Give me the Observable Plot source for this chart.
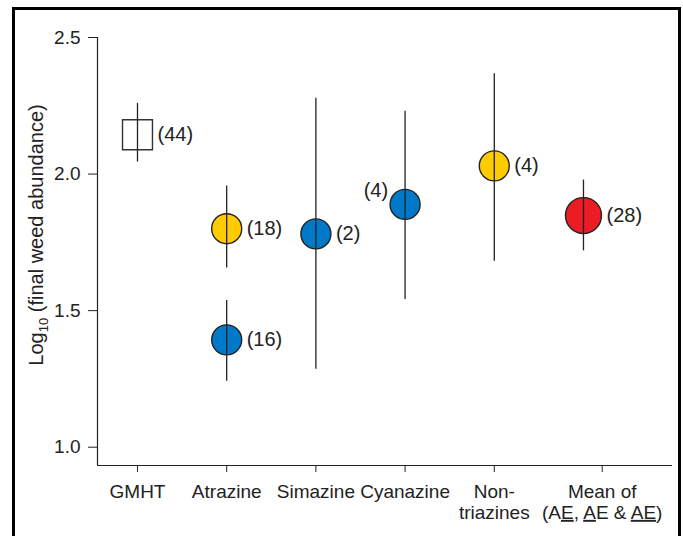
<!DOCTYPE html>
<html>
<head>
<meta charset="utf-8">
<script src="https://cdn.jsdelivr.net/npm/d3@7"></script>
<script src="https://cdn.jsdelivr.net/npm/@observablehq/plot@0.6"></script>
<style>
  html, body { margin: 0; padding: 0; background: #fff; overflow: hidden; }
  #wrap { position: relative; width: 683px; height: 536px; }
  #border { position: absolute; left: 12px; top: 7px; width: 669px; height: 600px; box-sizing: border-box; border: 3px solid #000; border-bottom: none; pointer-events: none; }
  #chart { position: absolute; left: 0; top: 0; }
  svg { font-family: "Liberation Sans", Arial, sans-serif; }
</style>
</head>
<body>
<div id="wrap"><div id="chart"></div><div id="border"></div></div>
<script>
// Categories and tick labels
const categories = ["GMHT", "Atrazine", "Simazine", "Cyanazine", "Non-triazines", "Mean"];
const tickLabels = ["GMHT", "Atrazine", "Simazine", "Cyanazine", "Non-\ntriazines", "Mean of\n(AE, AE & AE)"];
// tick positions along the category axis (the "Mean of" label sits slightly right of its point)
const xTickValues = [0, 1, 2, 3, 4, 5.21];
const yTicks = [1.0, 1.5, 2.0, 2.5];

// Points (means, CI bounds, sample size labels, group)
const pointCat   = ["GMHT", "Atrazine", "Atrazine", "Simazine", "Cyanazine", "Non-triazines", "Mean"];
const pointMean  = [2.144, 1.800, 1.393, 1.781, 1.889, 2.030, 1.848];
const pointLow   = [2.044, 1.656, 1.241, 1.285, 1.541, 1.681, 1.719];
const pointHigh  = [2.259, 1.956, 1.537, 2.278, 2.230, 2.367, 1.978];
const pointN     = ["(44)", "(18)", "(16)", "(2)", "(4)", "(4)", "(28)"];
const pointGroup = ["GM", "yellow", "blue", "blue", "blue", "yellow", "red"];

const groupColor = {GM: "#ffffff", yellow: "#FFCC00", blue: "#0079C9", red: "#EC1C24"};

const data = pointCat.map((c, i) => ({
  cat: c, xi: categories.indexOf(c), mean: pointMean[i], low: pointLow[i], high: pointHigh[i],
  n: pointN[i], group: pointGroup[i]
}));

const circles = data.filter(d => d.group !== "GM" && d.group !== "red");
const squares = data.filter(d => d.group === "GM");
const bigs = data.filter(d => d.group === "red");
const labelsRight = data.filter(d => d.cat !== "Cyanazine" && d.group !== "red");
const labelsLeft = data.filter(d => d.cat === "Cyanazine");

// axis extents (in scale units)
const xMin = -0.4484, xMax = 5.998;
const yMin = 0.933, yMax = 2.5;

const plot = Plot.plot({
  width: 683,
  height: 536,
  marginLeft: 97,
  marginRight: 11,
  marginTop: 37,
  marginBottom: 71,
  style: {fontFamily: "'Liberation Sans', Arial, sans-serif", fontSize: "19px", color: "#222", background: "transparent"},
  x: {domain: [xMin, xMax]},
  y: {domain: [yMin, yMax]},
  marks: [
    Plot.axisY({ticks: yTicks, tickFormat: d3.format(".1f"), tickSize: 9, tickPadding: 8, label: null, fontSize: 19, stroke: "#222", strokeOpacity: 1}),
    Plot.axisX({ticks: xTickValues, tickSize: 7, tickPadding: 10, label: null, fontSize: 19, lineHeight: 1.12,
      tickFormat: (v, i) => tickLabels[i], stroke: "#222", strokeOpacity: 1}),
    Plot.ruleX([xMin], {stroke: "#222", strokeWidth: 1.2}),
    Plot.ruleY([yMin], {stroke: "#222", strokeWidth: 1.2}),
    Plot.dot(squares, {x: "xi", y: "mean", symbol: "square", r: 16.9, fill: "#fff", stroke: "#333", strokeWidth: 1.4}),
    Plot.dot(circles, {x: "xi", y: "mean", r: 15, fill: d => groupColor[d.group], stroke: "#222", strokeWidth: 1.4}),
    Plot.dot(bigs, {x: "xi", y: "mean", r: 18, fill: d => groupColor[d.group], stroke: "#222", strokeWidth: 1.4}),
    Plot.ruleX(data, {x: "xi", y1: "low", y2: "high", stroke: "#222", strokeWidth: 1.3}),
    Plot.text(labelsRight, {x: "xi", y: "mean", text: "n", textAnchor: "start", dx: 20, fontSize: 20, fill: "#222"}),
    Plot.text(bigs, {x: "xi", y: "mean", text: "n", textAnchor: "start", dx: 23, fontSize: 20, fill: "#222"}),
    Plot.text(labelsLeft, {x: "xi", y: "mean", text: "n", textAnchor: "end", dx: -17, dy: -14, fontSize: 20, fill: "#222"})
  ]
});

document.getElementById("chart").appendChild(plot);

const svg = d3.select(plot);

// Underlined letters in the last tick label
const tsp = Array.from(plot.querySelectorAll("tspan")).find(n => n.textContent === "(AE, AE & AE)");
if (tsp) {
  tsp.textContent = "";
  const parts = [["(A", false], ["E", true], [", ", false], ["A", true], ["E & ", false], ["AE", true], [")", false]];
  for (const [s, u] of parts) {
    const t = d3.select(tsp).append("tspan").text(s);
    if (u) t.style("text-decoration", "underline");
  }
}

// Y-axis title with subscript
const yl = svg.append("text")
  .attr("transform", "translate(43,235) rotate(-90)")
  .attr("text-anchor", "middle")
  .attr("font-size", 20)
  .attr("fill", "#222");
yl.append("tspan").text("Log");
yl.append("tspan").attr("dy", 5).attr("font-size", 13).text("10");
yl.append("tspan").attr("dy", -5).text(" (final weed abundance)");
</script>
</body>
</html>
